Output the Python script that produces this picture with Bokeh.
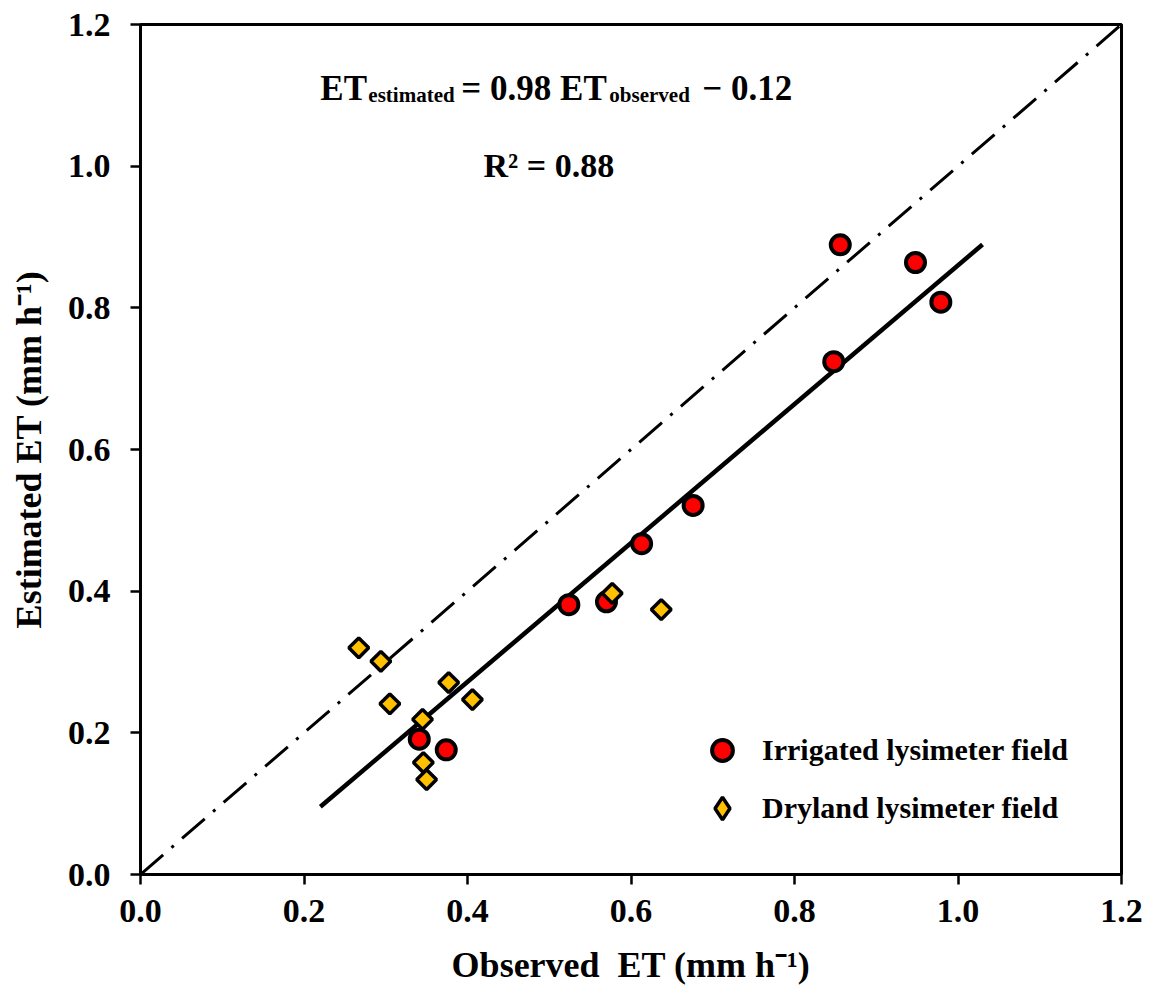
from bokeh.plotting import figure
from bokeh.models import Range1d, FixedTicker, NumeralTickFormatter, Legend, LegendItem, Label, ColumnDataSource
from bokeh.embed import file_html
from bokeh.resources import INLINE
import numpy as np

# ---- data ----
irr_obs = [0.856, 0.948, 0.979, 0.848, 0.676, 0.613, 0.524, 0.570, 0.341, 0.374]
irr_est = [0.889, 0.864, 0.808, 0.724, 0.521, 0.467, 0.381, 0.385, 0.191, 0.176]

dry_obs = [0.267, 0.294, 0.305, 0.377, 0.406, 0.345, 0.346, 0.350, 0.577, 0.637]
dry_est = [0.320, 0.301, 0.241, 0.271, 0.247, 0.219, 0.158, 0.134, 0.397, 0.374]

fit_slope = 0.98
fit_intercept = -0.12
fit_x = [0.22, 1.03]
one_to_one = [0.0, 1.2]
ticks = [0.0, 0.2, 0.4, 0.6, 0.8, 1.0, 1.2]

series_names = ["Irrigated lysimeter field", "Dryland lysimeter field"]
x_title = "Observed\u00a0 ET (mm h\u207b\u00b9)"
y_title = "Estimated ET (mm h\u207b\u00b9)"

FONT = "Liberation Serif"

p = figure(width=1152, height=1000,
           x_range=Range1d(0, 1.2), y_range=Range1d(0, 1.2),
           output_backend="svg", toolbar_location=None,
           min_border_left=140, min_border_right=31,
           min_border_top=24, min_border_bottom=126,
           background_fill_color="white", border_fill_color="white")

p.xgrid.visible = False
p.ygrid.visible = False
p.outline_line_color = "black"
p.outline_line_width = 3
p.outline_line_alpha = 1.0

for ax, title, standoff, t_standoff in ((p.xaxis[0], x_title, 15, 20),
                                        (p.yaxis[0], y_title, 20, 16)):
    ax.ticker = FixedTicker(ticks=ticks)
    ax.formatter = NumeralTickFormatter(format="0.0")
    ax.axis_line_width = 3
    ax.axis_line_color = "black"
    ax.major_tick_line_width = 2.5
    ax.major_tick_line_color = "black"
    ax.major_tick_out = 10
    ax.major_tick_in = 0
    ax.minor_tick_line_color = None
    ax.major_label_text_font = FONT
    ax.major_label_text_font_style = "bold"
    ax.major_label_text_font_size = "34px"
    ax.major_label_text_color = "black"
    ax.major_label_standoff = standoff
    ax.axis_label = title
    ax.axis_label_text_font = FONT
    ax.axis_label_text_font_style = "bold"
    ax.axis_label_text_font_size = "36px"
    ax.axis_label_text_color = "black"
    ax.axis_label_standoff = t_standoff

# 1:1 line (dash-dot)
p.line(one_to_one, one_to_one, line_color="black", line_width=3,
       line_dash="30 11 3 11", line_cap="butt")

# regression line
fit_y = [fit_slope * x + fit_intercept for x in fit_x]
p.line(fit_x, fit_y, line_color="black", line_width=4.5)

dry_src = ColumnDataSource(dict(x=dry_obs, y=dry_est))

r_irr = p.scatter(irr_obs, irr_est, marker="circle", size=19,
                  fill_color="#FF0000", line_color="black", line_width=4)
r_dry = p.scatter("x", "y", source=dry_src, marker="square", size=14, angle=np.pi / 4,
                  fill_color="#FFC000", line_color="black", line_width=3.5)
# hidden twin of the dryland series, used only for its (unrotated) legend key
r_dry_key = p.scatter("x", "y", source=dry_src, marker="diamond",
                      fill_color="#FFC000", line_color="black", line_width=3.5,
                      visible=False)

common = dict(padding=0, margin=0, border_line_color=None,
              background_fill_alpha=0.0,
              inactive_fill_alpha=0.0,
              label_text_font=FONT, label_text_font_style="bold",
              label_text_font_size="30px", label_text_color="black")

leg1 = Legend(items=[LegendItem(label=series_names[0], renderers=[r_irr])],
              location=(556, 98), glyph_width=52, glyph_height=52,
              label_standoff=14, label_height=52, **common)
leg2 = Legend(items=[LegendItem(label=series_names[1], renderers=[r_dry_key])],
              location=(554, 38), glyph_width=56, glyph_height=56,
              label_standoff=12, label_height=56, **common)
p.add_layout(leg1)
p.add_layout(leg2)

# equation annotation
eq_x = 0.22
eq_y = 1.1097
sub_dy = 0.0095
pieces = [("ET", 0, "35px", 0.0),
          ("estimated", 48, "21px", sub_dy),
          ("= 0.98 ET", 141, "35px", 0.0),
          ("observed", 289, "21px", sub_dy),
          ("\u2212 0.12", 382, "35px", 0.0)]
for txt, off, fs, dy in pieces:
    p.add_layout(Label(x=eq_x, y=eq_y - dy, x_offset=off, text=txt,
                       text_font=FONT, text_font_style="bold",
                       text_font_size=fs, text_color="black",
                       text_baseline="alphabetic", text_align="left"))

p.add_layout(Label(x=0.4196, y=1.001, text="R\u00b2 = 0.88",
                   text_font=FONT, text_font_style="bold",
                   text_font_size="34px", text_color="black",
                   text_baseline="alphabetic", text_align="left"))

open("out.html", "w").write(file_html(p, INLINE))
